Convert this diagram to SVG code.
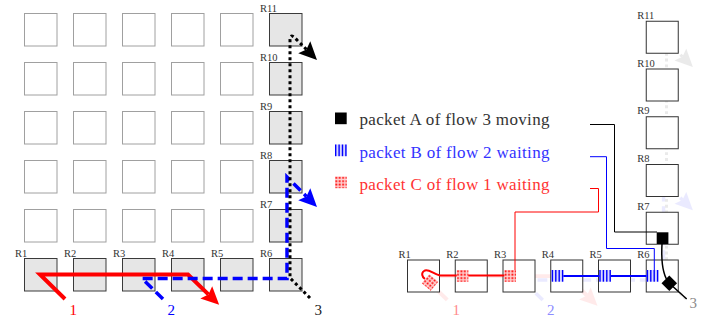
<svg xmlns="http://www.w3.org/2000/svg" xmlns:xlink="http://www.w3.org/1999/xlink" width="721" height="320" viewBox="0 0 721 320">
  <style>
    .grid { fill: #ffffff; stroke: #a0a0a0; stroke-width: 1; }
    .busy { fill: #e6e6e6; stroke: #3a3a3a; stroke-width: 1; }
    .rt { fill: #ffffff; stroke: #333333; stroke-width: 1; }
    .lbl { font-family: "Liberation Serif", "Times New Roman", serif; font-size: 10.5px; fill: #333333; }
    .num { font-family: "Liberation Serif", "Times New Roman", serif; font-size: 15px; }
    .leg { font-family: "Liberation Serif", "Times New Roman", serif; font-size: 17px; }
    .flow { fill: none; stroke-linejoin: miter; }
    .lead { fill: none; stroke-width: 1; }
  </style>
  <defs>
    <marker id="arRed" markerUnits="userSpaceOnUse" viewBox="-3 -10 20 20" markerWidth="20" markerHeight="20" refX="1" refY="0" orient="auto">
      <path d="M16,0 L-2,-8.5 L1,0 L-2,8.5 Z" fill="#ff0000"/>
    </marker>
    <marker id="arBlue" markerUnits="userSpaceOnUse" viewBox="-3 -10 20 20" markerWidth="20" markerHeight="20" refX="1" refY="0" orient="auto">
      <path d="M16,0 L-2,-8.5 L1,0 L-2,8.5 Z" fill="#0000ff"/>
    </marker>
    <marker id="arBlack" markerUnits="userSpaceOnUse" viewBox="-3 -10 20 20" markerWidth="20" markerHeight="20" refX="1" refY="0" orient="auto">
      <path d="M16,0 L-2,-8.5 L1,0 L-2,8.5 Z" fill="#000000"/>
    </marker>
    <!-- packet B: vertical bars -->
    <g id="pktB">
      <rect x="0" y="0" width="11.7" height="11.7" fill="#d8d8ff"/>
      <rect x="0" y="0" width="1.4" height="11.7" fill="#0000ff"/>
      <rect x="3.4" y="0" width="1.4" height="11.7" fill="#0000ff"/>
      <rect x="6.8" y="0" width="1.4" height="11.7" fill="#0000ff"/>
      <rect x="10.2" y="0" width="1.4" height="11.7" fill="#0000ff"/>
    </g>
    <!-- packet C: dot grid -->
    <pattern id="dots" patternUnits="userSpaceOnUse" x="0" y="0" width="3.4" height="3.4">
      <rect x="0" y="0" width="3.4" height="3.4" fill="#ffd0d0"/>
      <rect x="0.4" y="0.4" width="1.8" height="1.8" fill="#ff0000"/>
    </pattern>
    <g id="pktC">
      <rect x="0" y="0" width="11.7" height="11.7" fill="url(#dots)"/>
    </g>
  </defs>

  <!-- ===== left mesh ===== -->
  <g id="meshL">
    <g id="g00"><rect class="grid" x="24.5" y="13.5" width="32.5" height="32.5"/></g>
    <g id="g10"><rect class="grid" x="73.5" y="13.5" width="32.5" height="32.5"/></g>
    <g id="g20"><rect class="grid" x="122.5" y="13.5" width="32.5" height="32.5"/></g>
    <g id="g30"><rect class="grid" x="171.5" y="13.5" width="32.5" height="32.5"/></g>
    <g id="g40"><rect class="grid" x="220.5" y="13.5" width="32.5" height="32.5"/></g>
    <g id="g01"><rect class="grid" x="24.5" y="62.5" width="32.5" height="32.5"/></g>
    <g id="g11"><rect class="grid" x="73.5" y="62.5" width="32.5" height="32.5"/></g>
    <g id="g21"><rect class="grid" x="122.5" y="62.5" width="32.5" height="32.5"/></g>
    <g id="g31"><rect class="grid" x="171.5" y="62.5" width="32.5" height="32.5"/></g>
    <g id="g41"><rect class="grid" x="220.5" y="62.5" width="32.5" height="32.5"/></g>
    <g id="g02"><rect class="grid" x="24.5" y="111.5" width="32.5" height="32.5"/></g>
    <g id="g12"><rect class="grid" x="73.5" y="111.5" width="32.5" height="32.5"/></g>
    <g id="g22"><rect class="grid" x="122.5" y="111.5" width="32.5" height="32.5"/></g>
    <g id="g32"><rect class="grid" x="171.5" y="111.5" width="32.5" height="32.5"/></g>
    <g id="g42"><rect class="grid" x="220.5" y="111.5" width="32.5" height="32.5"/></g>
    <g id="g03"><rect class="grid" x="24.5" y="160.5" width="32.5" height="32.5"/></g>
    <g id="g13"><rect class="grid" x="73.5" y="160.5" width="32.5" height="32.5"/></g>
    <g id="g23"><rect class="grid" x="122.5" y="160.5" width="32.5" height="32.5"/></g>
    <g id="g33"><rect class="grid" x="171.5" y="160.5" width="32.5" height="32.5"/></g>
    <g id="g43"><rect class="grid" x="220.5" y="160.5" width="32.5" height="32.5"/></g>
    <g id="g04"><rect class="grid" x="24.5" y="209.5" width="32.5" height="32.5"/></g>
    <g id="g14"><rect class="grid" x="73.5" y="209.5" width="32.5" height="32.5"/></g>
    <g id="g24"><rect class="grid" x="122.5" y="209.5" width="32.5" height="32.5"/></g>
    <g id="g34"><rect class="grid" x="171.5" y="209.5" width="32.5" height="32.5"/></g>
    <g id="g44"><rect class="grid" x="220.5" y="209.5" width="32.5" height="32.5"/></g>

    <g id="L-R1"><rect class="busy" x="24.5" y="258.5" width="32.5" height="32.5"/><text class="lbl" x="15" y="257">R1</text></g>
    <g id="L-R2"><rect class="busy" x="73.5" y="258.5" width="32.5" height="32.5"/><text class="lbl" x="64" y="257">R2</text></g>
    <g id="L-R3"><rect class="busy" x="122.5" y="258.5" width="32.5" height="32.5"/><text class="lbl" x="113" y="257">R3</text></g>
    <g id="L-R4"><rect class="busy" x="171.5" y="258.5" width="32.5" height="32.5"/><text class="lbl" x="162" y="257">R4</text></g>
    <g id="L-R5"><rect class="busy" x="220.5" y="258.5" width="32.5" height="32.5"/><text class="lbl" x="211" y="257">R5</text></g>
    <g id="L-R6"><rect class="busy" x="269.5" y="258.5" width="32.5" height="32.5"/><text class="lbl" x="260" y="257">R6</text></g>
    <g id="L-R7"><rect class="busy" x="269.5" y="209.5" width="32.5" height="32.5"/><text class="lbl" x="260" y="207.7">R7</text></g>
    <g id="L-R8"><rect class="busy" x="269.5" y="160.5" width="32.5" height="32.5"/><text class="lbl" x="260" y="158.7">R8</text></g>
    <g id="L-R9"><rect class="busy" x="269.5" y="111.5" width="32.5" height="32.5"/><text class="lbl" x="260" y="109.7">R9</text></g>
    <g id="L-R10"><rect class="busy" x="269.5" y="62.5" width="32.5" height="32.5"/><text class="lbl" x="260" y="60.7">R10</text></g>
    <g id="L-R11"><rect class="busy" x="269.5" y="13.5" width="32.5" height="32.5"/><text class="lbl" x="260" y="11.7">R11</text></g>
  </g>

  <!-- flow routes through the left mesh -->
  <g id="flowsL">
    <path class="flow" d="M65,299 L40,274.5 L188,274.5 L208.4,294.4" stroke="#ff0000" stroke-width="4" marker-end="url(#arRed)"/>
    <path class="flow" d="M163,299 L142,278.5 L287,278.5 L287,177 L306.4,196.4" stroke="#0000ff" stroke-width="3.5" stroke-dasharray="10 5" marker-end="url(#arBlue)"/>
    <path class="flow" d="M310,298 L290,278 L290,40 Q290,32 297,40 L306.4,49.4" stroke="#000000" stroke-width="3" stroke-dasharray="3 3" marker-end="url(#arBlack)"/>
  </g>
  <g id="flowLabelsL">
    <text class="num" x="69.5" y="315" fill="#ff0000">1</text>
    <text class="num" x="167.5" y="315" fill="#0000ff">2</text>
    <text class="num" x="314.5" y="315" fill="#222222">3</text>
  </g>

  <!-- ===== legend ===== -->
  <g id="legend">
    <rect x="335" y="112.5" width="11.7" height="11.7" fill="#000000"/>
    <text class="leg" x="359.5" y="125" fill="#333333" textLength="190">packet A of flow 3 moving</text>
    <use xlink:href="#pktB" href="#pktB" x="335" y="144.5"/>
    <text class="leg" x="359.5" y="158" fill="#3333ff" textLength="190">packet B of flow 2 waiting</text>
    <use xlink:href="#pktC" href="#pktC" x="335" y="176.5"/>
    <text class="leg" x="359.5" y="190" fill="#ff3333" textLength="190">packet C of flow 1 waiting</text>
  </g>

  <!-- ===== right mesh (snapshot) ===== -->
  <!-- faded trace of the routes -->
  <use xlink:href="#flowsL" href="#flowsL" transform="matrix(0.9745 0 0 0.9745 383.9 8.6)" opacity="0.08"/>

  <g id="meshR">
    <g id="S-R1"><rect class="rt" x="407.5" y="260" width="32" height="32"/><text class="lbl" x="398.5" y="257.5">R1</text></g>
    <g id="S-R2"><rect class="rt" x="455.25" y="260" width="32" height="32"/><text class="lbl" x="446.25" y="257.5">R2</text></g>
    <g id="S-R3"><rect class="rt" x="503" y="260" width="32" height="32"/><text class="lbl" x="494" y="257.5">R3</text></g>
    <g id="S-R4"><rect class="rt" x="550.75" y="260" width="32" height="32"/><text class="lbl" x="541.75" y="257.5">R4</text></g>
    <g id="S-R5"><rect class="rt" x="598.5" y="260" width="32" height="32"/><text class="lbl" x="589.5" y="257.5">R5</text></g>
    <g id="S-R6"><rect class="rt" x="646.25" y="260" width="32" height="32"/><text class="lbl" x="637.25" y="257.5">R6</text></g>
    <g id="S-R7"><rect class="rt" x="646.25" y="212.25" width="32" height="32"/><text class="lbl" x="637.25" y="209.75">R7</text></g>
    <g id="S-R8"><rect class="rt" x="646.25" y="164.5" width="32" height="32"/><text class="lbl" x="637.25" y="162">R8</text></g>
    <g id="S-R9"><rect class="rt" x="646.25" y="116.75" width="32" height="32"/><text class="lbl" x="637.25" y="114.25">R9</text></g>
    <g id="S-R10"><rect class="rt" x="646.25" y="69" width="32" height="32"/><text class="lbl" x="637.25" y="66.5">R10</text></g>
    <g id="S-R11"><rect class="rt" x="646.25" y="21.25" width="32" height="32"/><text class="lbl" x="637.25" y="18.75">R11</text></g>
  </g>

  <!-- legend leaders and packet chains -->
  <g id="connectors">
    <path class="lead" d="M590,124.5 H614.5 V232 H657" stroke="#000000"/>
    <path class="lead" d="M590,156.7 H606.5 V248.5 H654.3 V270" stroke="#0000ff"/>
    <path class="lead" d="M590,188.5 H598.5 V212 H515 V270" stroke="#ff0000"/>
    <!-- flow 1 chain R1-R2-R3 -->
    <path fill="none" stroke="#ff0000" stroke-width="2" d="M510,275.5 L440,275.5 C433,274 428,268 424,271 C421,273 422,277 425,279"/>
    <!-- flow 2 chain R4-R5-R6 -->
    <path fill="none" stroke="#0000ff" stroke-width="2" d="M557,276 L652,276"/>
    <!-- flow 3 move R7 to R6 and exit -->
    <path fill="none" stroke="#000000" stroke-width="1.5" d="M662,244 C661,262 663,276 669.3,283.3 L686.7,299"/>
  </g>

  <g id="packets">
    <g id="pC1"><use xlink:href="#pktC" href="#pktC" transform="translate(430,282.5) rotate(40) translate(-5.85,-5.85)"/></g>
    <g id="pC2"><use xlink:href="#pktC" href="#pktC" x="456.7" y="270"/></g>
    <g id="pC3"><use xlink:href="#pktC" href="#pktC" x="504.3" y="270"/></g>
    <g id="pB4"><use xlink:href="#pktB" href="#pktB" x="551.7" y="270"/></g>
    <g id="pB5"><use xlink:href="#pktB" href="#pktB" x="599.3" y="270"/></g>
    <g id="pB6"><use xlink:href="#pktB" href="#pktB" x="646.7" y="270"/></g>
    <g id="pA7"><rect x="656.7" y="232.3" width="11.7" height="11.7" fill="#000000"/></g>
    <g id="pA6"><rect x="663.8" y="277.8" width="11" height="11" fill="#000000" transform="rotate(45 669.3 283.3)"/></g>
  </g>

  <g id="flowLabelsR">
    <text class="num" x="452.5" y="315" fill="#ff8c8c">1</text>
    <text class="num" x="547" y="315" fill="#8c8cff">2</text>
    <text class="num" x="689.5" y="308" fill="#8a8a8a">3</text>
  </g>
</svg>
